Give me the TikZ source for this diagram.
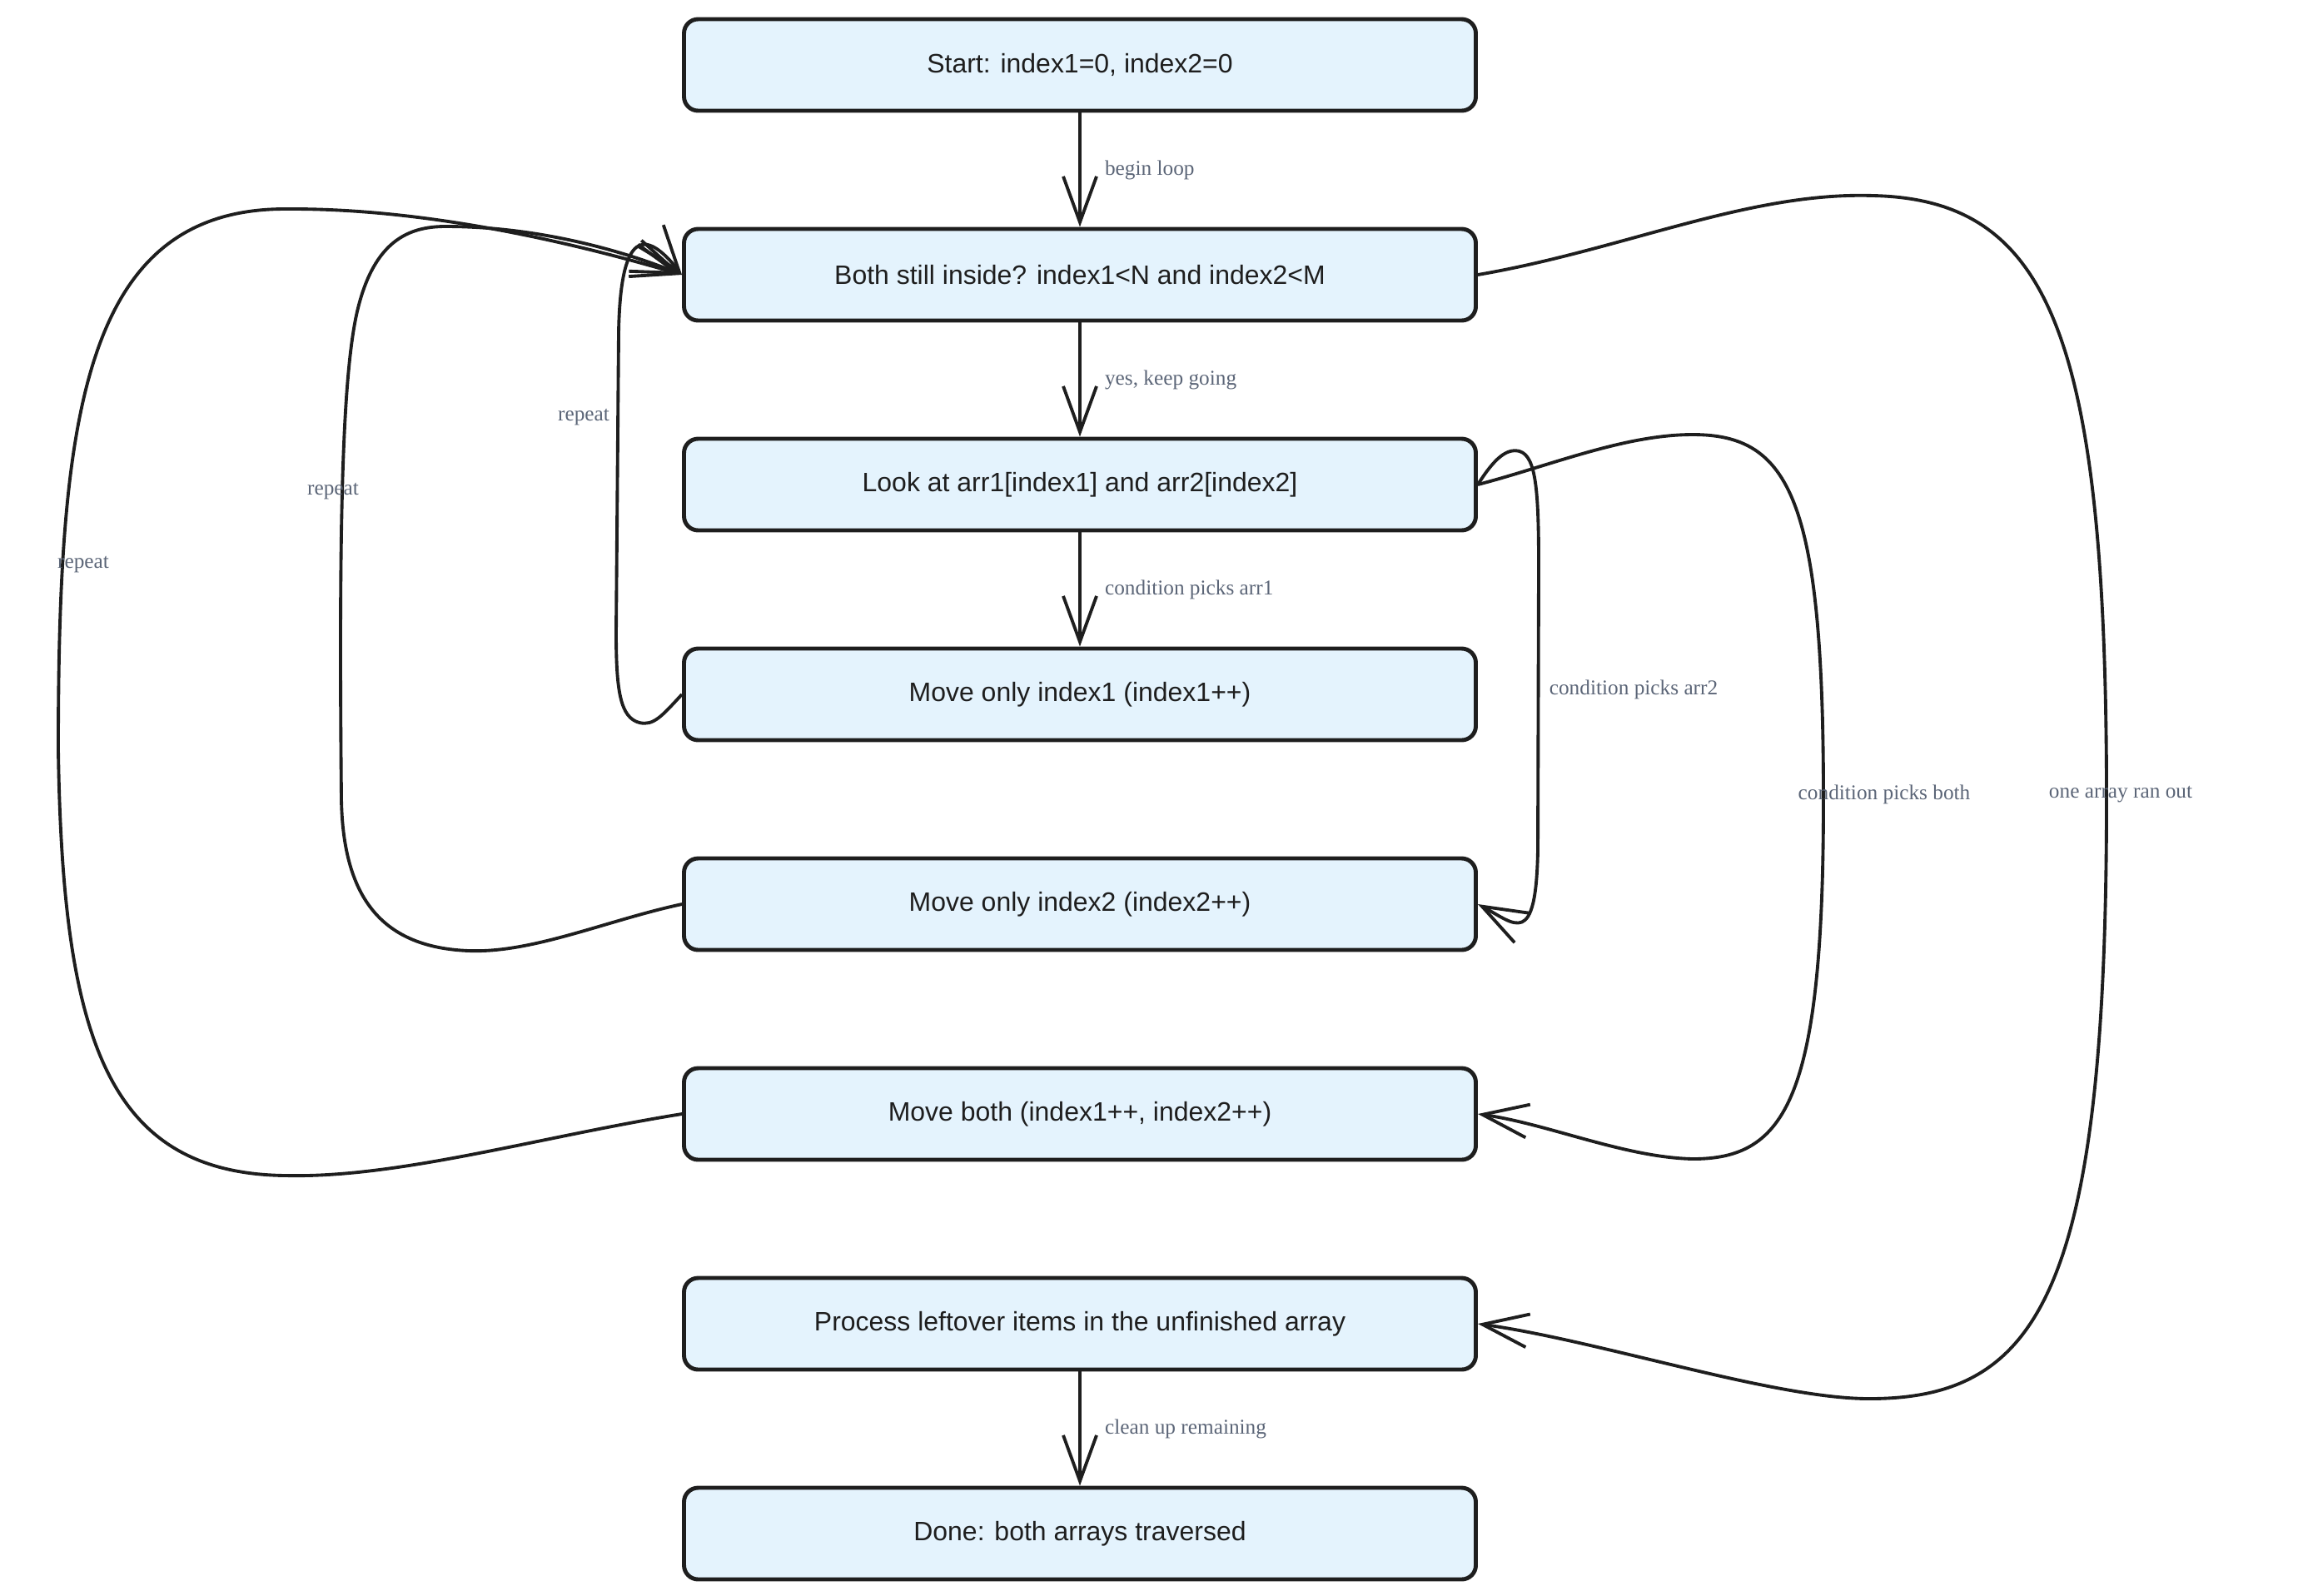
\documentclass[tikz,border=0pt]{standalone}
\usepackage{fontspec}
\setmainfont{Liberation Serif}
\setsansfont{Liberation Sans}
\usetikzlibrary{arrows.meta,positioning}
\definecolor{boxfill}{HTML}{E4F3FD}
\definecolor{inkgray}{HTML}{1E1E1E}
\definecolor{labelgray}{HTML}{5B6577}

\begin{document}
\begin{tikzpicture}[
  stage/.style={draw=inkgray,line width=1.4pt,fill=boxfill,rounded corners=0.17cm,
    minimum width=9.51cm,minimum height=1.10cm,inner sep=2pt,text=inkgray,
    font=\sffamily\fontsize{9.1}{11}\selectfont},
  flow/.style={-{Straight Barb[length=5.5mm,width=4mm]},line width=1.1pt,draw=inkgray},
  lbl/.style={text=labelgray,inner sep=1pt,font=\fontsize{7.2}{8.6}\selectfont}]
\useasboundingbox (0,0) rectangle (27.66,-19.16);

\node[stage] (start) at (12.97,-0.78) {Start: index1=0, index2=0};
\node[stage] (check) at (12.97,-3.30) {Both still inside? index1<N and index2<M};
\node[stage] (compare) at (12.97,-5.82) {Look at arr1[index1] and arr2[index2]};
\node[stage] (moveone) at (12.97,-8.34) {Move only index1 (index1++)};
\node[stage] (movetwo) at (12.97,-10.86) {Move only index2 (index2++)};
\node[stage] (moveboth) at (12.97,-13.38) {Move both (index1++, index2++)};
\node[stage] (leftover) at (12.97,-15.90) {Process leftover items in the unfinished array};
\node[stage] (done) at (12.97,-18.42) {Done: both arrays traversed};

\draw[flow] (start) -- node[lbl,right=7pt] (lblbegin) {begin loop} (check);
\draw[flow] (check) -- node[lbl,right=7pt] (lblyes) {yes, keep going} (compare);
\draw[flow] (compare) -- node[lbl,right=7pt] (lblarr1) {condition picks arr1} (moveone);
\draw[flow] (leftover) -- node[lbl,right=7pt] (lblclean) {clean up remaining} (done);

\draw[flow] (moveone.west) .. controls (7.95,-8.6) and (7.85,-8.72) .. (7.68,-8.68)
  .. controls (7.45,-8.62) and (7.40,-8.3) .. (7.40,-7.6) -- (7.43,-4.0)
  .. controls (7.45,-2.75) and (7.75,-2.75) .. (check.west);
\draw[flow] (movetwo.west) .. controls (7.3,-11.05) and (6.4,-11.45) .. (5.63,-11.42)
  .. controls (4.6,-11.38) and (4.12,-10.8) .. (4.1,-9.6)
  .. controls (4.07,-6.5) and (4.1,-4.5) .. (4.3,-3.7)
  .. controls (4.5,-2.9) and (4.9,-2.72) .. (5.35,-2.72)
  .. controls (6.4,-2.72) and (7.4,-2.98) .. (check.west);
\draw[flow] (moveboth.west) .. controls (6.5,-13.65) and (4.8,-14.15) .. (3.44,-14.12)
  .. controls (1.3,-14.1) and (0.75,-12.5) .. (0.7,-9.0)
  .. controls (0.7,-5.0) and (1.0,-2.5) .. (3.44,-2.51)
  .. controls (5.2,-2.5) and (7.0,-2.95) .. (check.west);
\node[lbl] (lblrepone) at (7.01,-5.01) {repeat};
\node[lbl] (lblreptwo) at (4.00,-5.90) {repeat};
\node[lbl] (lblrepboth) at (1.00,-6.78) {repeat};

\draw[flow] (compare.east) .. controls (17.95,-5.5) and (18.1,-5.38) .. (18.25,-5.42)
  .. controls (18.45,-5.48) and (18.48,-5.9) .. (18.48,-6.8) -- (18.47,-10.2)
  .. controls (18.45,-11.4) and (18.2,-11.1) .. (movetwo.east);
\draw[flow] (compare.east) .. controls (18.6,-5.6) and (19.5,-5.22) .. (20.33,-5.22)
  .. controls (21.5,-5.22) and (21.9,-6) .. (21.9,-9.6)
  .. controls (21.9,-13.2) and (21.45,-13.92) .. (20.33,-13.92)
  .. controls (19.5,-13.9) and (18.6,-13.5) .. (moveboth.east);
\draw[flow] (check.east) .. controls (19.5,-3.0) and (21.0,-2.3) .. (22.5,-2.35)
  .. controls (24.6,-2.4) and (25.3,-4) .. (25.3,-9.6)
  .. controls (25.3,-15.5) and (24.5,-16.8) .. (22.45,-16.8)
  .. controls (21.3,-16.8) and (19.2,-16.1) .. (leftover.east);
\node[lbl] (lblarr2) at (19.62,-8.28) {condition picks arr2};
\node[lbl] (lblboth) at (22.63,-9.54) {condition picks both};
\node[lbl] (lblranout) at (25.47,-9.54) {one array ran out};
\end{tikzpicture}
\end{document}
